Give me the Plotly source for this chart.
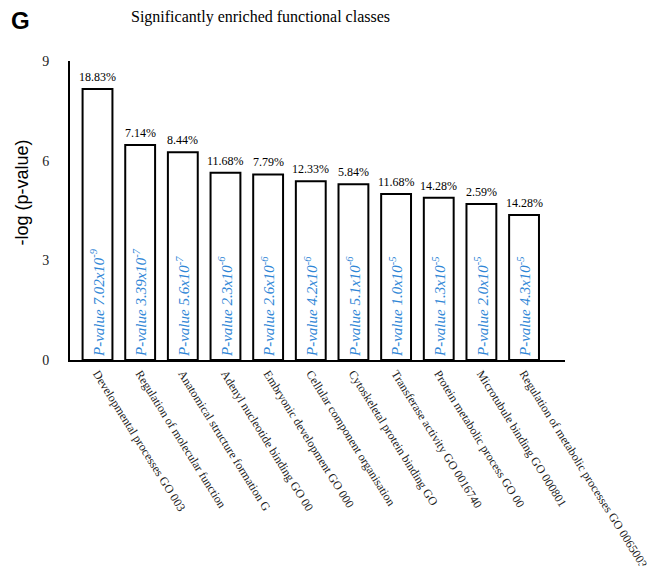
import math
import plotly.graph_objects as go

# GO categories (labels as printed under the axis)
categories = [
    "Developmental processes GO 003",
    "Regulation of molecular function",
    "Anatomical structure formation G",
    "Adenyl nucleotide binding GO 00",
    "Embryonic development GO 000",
    "Cellular component organisation",
    "Cytoskeletal protein binding GO",
    "Transferase activity GO 0016740",
    "Protein metabolic process GO 00",
    "Microtubule binding GO 000801",
    "Regulation of metabolic processes GO 0065003",
]
# p-values as mantissa / exponent pairs
p_mantissa = ["7.02", "3.39", "5.6", "2.3", "2.6", "4.2", "5.1", "1.0", "1.3", "2.0", "4.3"]
p_exponent = [-9, -7, -7, -6, -6, -6, -6, -5, -5, -5, -5]
# share of genes in each class
percent_labels = ["18.83%", "7.14%", "8.44%", "11.68%", "7.79%", "12.33%",
                  "5.84%", "11.68%", "14.28%", "2.59%", "14.28%"]
y_ticks = [0, 3, 6, 9]

neglog = [-math.log10(float(m) * 10 ** e) for m, e in zip(p_mantissa, p_exponent)]
pval_text = [f"<i>P-value {m}x10<sup>{e}</sup></i>" for m, e in zip(p_mantissa, p_exponent)]
x_idx = list(range(len(categories)))

SERIF = "Liberation Serif"
SANS = "Liberation Sans"
BLUE = "#2f86d6"

fig = go.Figure()
fig.add_trace(go.Bar(
    x=x_idx,
    y=neglog,
    width=0.7,
    marker=dict(color="white", line=dict(color="black", width=2)),
    text=pval_text,
    textposition="inside",
    insidetextanchor="start",
    textangle=-90,
    textfont=dict(family=SERIF, size=15, color=BLUE),
    constraintext="none",
    hoverinfo="skip",
))

annotations = []
for i, (v, lab) in enumerate(zip(neglog, percent_labels)):
    annotations.append(dict(
        x=i, y=v, xref="x", yref="y", text=lab, showarrow=False,
        yanchor="bottom", yshift=3,
        font=dict(family=SERIF, size=12, color="black"),
    ))

# y-axis title
annotations.append(dict(
    x=-0.097, y=0.56, xref="paper", yref="paper", text="-log (p-value)",
    textangle=-90, showarrow=False, xanchor="center", yanchor="middle",
    font=dict(family=SANS, size=18, color="black"),
))
# chart title
annotations.append(dict(
    x=0.384, y=1.0, xref="paper", yref="paper", yanchor="middle",
    yshift=44, text="Significantly enriched functional classes",
    showarrow=False, font=dict(family=SERIF, size=16, color="black"),
))
# panel letter
annotations.append(dict(
    x=-0.101, y=1.0, xref="paper", yref="paper", yanchor="middle",
    xanchor="center", yshift=41, text="<b>G</b>",
    showarrow=False, font=dict(family=SANS, size=24, color="black"),
))

fig.update_layout(
    width=647, height=566,
    margin=dict(l=70, r=82, t=61, b=206, autoexpand=False),
    paper_bgcolor="white", plot_bgcolor="white",
    showlegend=False,
    annotations=annotations,
    xaxis=dict(
        range=[-0.645, 10.96],
        tickmode="array", tickvals=x_idx, ticktext=categories,
        tickangle=58,
        tickfont=dict(family=SERIF, size=12, color="#222"),
        ticklabeloverflow="allow",
        automargin=False,
        showline=True, linecolor="black", linewidth=2,
        showgrid=False, zeroline=False, ticks="",
    ),
    yaxis=dict(
        range=[0, 9],
        tickmode="array", tickvals=y_ticks,
        tickfont=dict(family=SERIF, size=14, color="#222"),
        ticks="outside", ticklen=16, tickcolor="white",
        automargin=False,
        showline=True, linecolor="black", linewidth=2,
        showgrid=False, zeroline=False,
    ),
)

fig.write_html("out.html")
